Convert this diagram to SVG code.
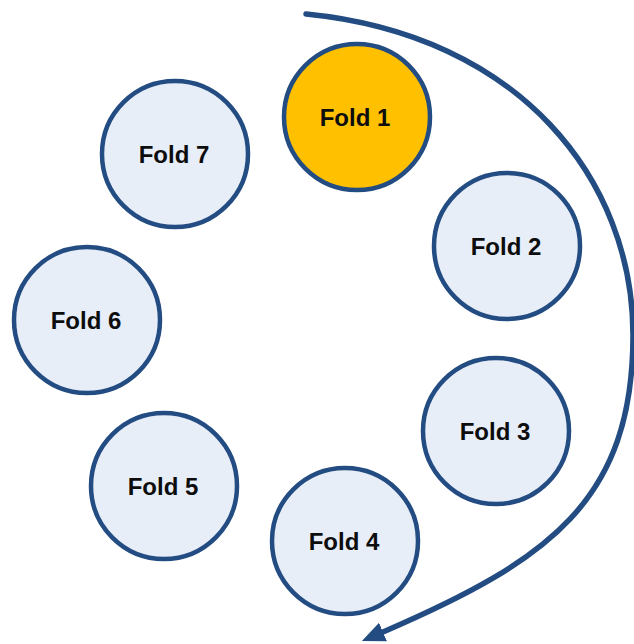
<svg xmlns="http://www.w3.org/2000/svg" width="634" height="644" viewBox="0 0 634 644">
<style>
.fold circle{fill:#E8EEF8;stroke:#234C82;stroke-width:4.5}
#fold1 circle{fill:#FFC000}
.fold text{font-family:"Liberation Sans",Arial,sans-serif;font-weight:bold;font-size:24px;fill:#0d0d0d;text-anchor:middle;dominant-baseline:central}
.conn{fill:none;stroke:#234C82;stroke-width:5.5;stroke-linecap:round}
</style>
<defs>
<marker id="ah" markerUnits="userSpaceOnUse" markerWidth="26" markerHeight="24" refX="0" refY="10" orient="auto" viewBox="0 0 26 20">
<path d="M0,0 L23,10 L0,20 Z" fill="#234C82"/>
</marker>
</defs>
<g id="connectors">
<path class="conn" d="M306,14 C520,35 633,180 633,335 C633,500 550,560 383,632" marker-end="url(#ah)"/>
</g>
<g id="fold1" class="fold"><circle cx="357" cy="117" r="73"/><text x="355" y="117">Fold 1</text></g>
<g id="fold2" class="fold"><circle cx="507" cy="246" r="73"/><text x="506" y="246">Fold 2</text></g>
<g id="fold3" class="fold"><circle cx="496" cy="431" r="73"/><text x="495" y="431">Fold 3</text></g>
<g id="fold4" class="fold"><circle cx="345" cy="541" r="73"/><text x="344" y="541">Fold 4</text></g>
<g id="fold5" class="fold"><circle cx="164" cy="486" r="73"/><text x="163" y="486">Fold 5</text></g>
<g id="fold6" class="fold"><circle cx="87" cy="320" r="73"/><text x="86" y="320">Fold 6</text></g>
<g id="fold7" class="fold"><circle cx="175" cy="154" r="73"/><text x="174" y="154">Fold 7</text></g>
</svg>
